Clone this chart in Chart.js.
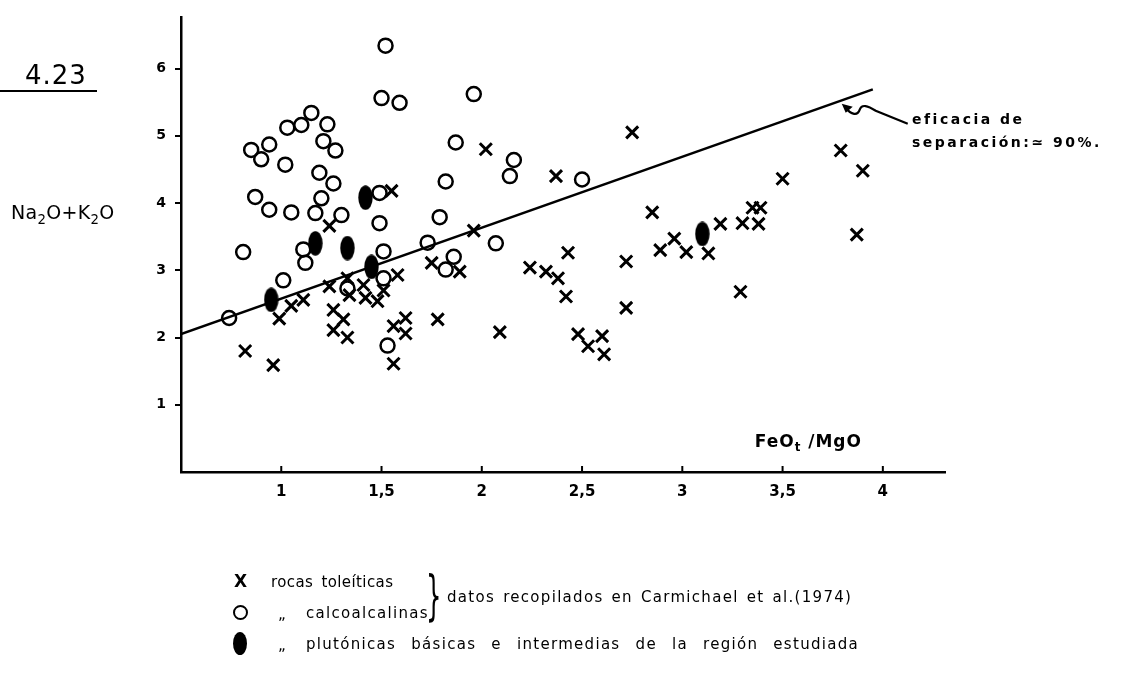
<!DOCTYPE html>
<html>
<head>
<meta charset="utf-8">
<script src="https://cdn.jsdelivr.net/npm/chart.js@4.4.1/dist/chart.umd.min.js"></script>
<style>
  body { margin: 0; background: #fff; }
  #wrap { position: relative; width: 1122px; height: 682px; font-family: 'DejaVu Sans', sans-serif; color: #000; }
  #wrap canvas { position: absolute; left: 0; top: 0; }
  .lbl { position: absolute; white-space: nowrap; }
  .lbl sub { font-size: 70%; vertical-align: -0.35em; line-height: 0; }
  .leg { position: absolute; white-space: nowrap; font-size: 15px; letter-spacing: 1.3px; line-height: 20px; }
</style>
</head>
<body>
<div id="wrap">
  <canvas id="chart" width="1122" height="682"></canvas>

  <div class="lbl" style="left:25px; top:60px; font-size:26px; letter-spacing:1px;">4.23</div>
  <div style="position:absolute; left:0; top:90px; width:97px; height:2px; background:#000;"></div>

  <div class="lbl" style="left:11px; top:201px; font-size:19px; letter-spacing:0.3px;">Na<sub>2</sub>O+K<sub>2</sub>O</div>
  <div class="lbl" style="right:260px; top:431px; font-size:17px; font-weight:bold; letter-spacing:1px;">FeO<sub>t</sub> /MgO</div>

  <div class="lbl" style="left:912px; top:108px; font-size:14px; font-weight:bold; letter-spacing:2.5px; line-height:23px;">eficacia de<br>separación:≃ 90%.</div>

  <!-- legend -->
  <div class="leg" style="left:234px; top:571px; font-weight:bold; font-size:17px;">X</div>
  <div class="leg" style="left:271px; top:572px; letter-spacing:0.4px; word-spacing:3px;">rocas toleíticas</div>
  <div style="position:absolute; left:233px; top:605px; width:11px; height:11px; border:2px solid #000; border-radius:50%;"></div>
  <div class="leg" style="left:278px; top:604px;">„</div>
  <div class="leg" style="left:306px; top:603px;">calcoalcalinas</div>
  <div class="leg" style="left:426px; top:566px; font-size:54px; line-height:60px; letter-spacing:0; transform:scaleX(0.45); transform-origin:left top;">}</div>
  <div class="leg" style="left:447px; top:587px; word-spacing:2px;">datos recopilados en Carmichael et al.(1974)</div>
  <div style="position:absolute; left:233px; top:632px; width:14px; height:23px; border-radius:50%; background:#000;"></div>
  <div class="leg" style="left:278px; top:635px;">„</div>
  <div class="leg" style="left:306px; top:634px; word-spacing:9px;">plutónicas básicas e intermedias de la región estudiada</div>
</div>

<script>
// tick values
const xTicks = [1, 1.5, 2, 2.5, 3, 3.5, 4];
const yTicks = [1, 2, 3, 4, 5, 6];

// rocas toleíticas (X)
const toleX = [0.82, 0.96, 0.99, 1.05, 1.11, 1.24, 1.24, 1.26, 1.31, 1.26, 1.33, 1.33, 1.34, 1.41, 1.42,
  1.51, 1.48, 1.58, 1.55, 1.56, 1.62, 1.62, 1.56, 1.75, 1.78, 1.89, 1.96, 2.02, 2.09, 2.24,
  2.32, 2.38, 2.37, 2.43, 2.42, 2.48, 2.53, 2.60, 2.61, 2.72, 2.72, 2.75, 2.85, 2.89, 2.96,
  3.02, 3.13, 3.19, 3.29, 3.30, 3.35, 3.38, 3.39, 3.50, 3.79, 3.87, 3.90];
const toleY = [1.80, 1.59, 2.28, 2.47, 2.56, 2.76, 3.66, 2.41, 2.27, 2.11, 2.00, 2.88, 2.63, 2.78, 2.59,
  2.70, 2.54, 2.93, 4.18, 2.17, 2.29, 2.06, 1.61, 3.11, 2.27, 2.98, 3.59, 4.80, 2.08, 3.04,
  2.98, 2.88, 4.40, 3.26, 2.61, 2.05, 1.87, 2.02, 1.75, 3.13, 2.44, 5.05, 3.86, 3.30, 3.47,
  3.27, 3.25, 3.69, 2.68, 3.70, 3.93, 3.69, 3.93, 4.36, 4.78, 3.53, 4.48];

// calcoalcalinas (O)
const calcX = [0.74, 0.81, 0.85, 0.87, 0.90, 0.94, 0.94, 1.01, 1.02, 1.03, 1.05, 1.10, 1.11, 1.12,
  1.15, 1.17, 1.19, 1.20, 1.21, 1.23, 1.26, 1.27, 1.30, 1.33, 1.49, 1.49, 1.50, 1.51, 1.51,
  1.52, 1.53, 1.59, 1.73, 1.79, 1.82, 1.82, 1.86, 1.87, 1.96, 2.07, 2.14, 2.16, 2.50];
const calcY = [2.29, 3.27, 4.79, 4.09, 4.65, 4.87, 3.90, 2.85, 4.57, 5.12, 3.86, 5.16, 3.31, 3.11,
  5.34, 3.85, 4.45, 4.07, 4.92, 5.17, 4.29, 4.78, 3.82, 2.73, 4.15, 3.70, 5.56, 2.88, 3.28,
  6.34, 1.88, 5.49, 3.41, 3.79, 4.32, 3.01, 3.20, 4.90, 5.62, 3.40, 4.40, 4.64, 4.35];

// plutónicas básicas e intermedias (filled)
const plutX = [0.95, 1.17, 1.33, 1.42, 1.45, 3.10];
const plutY = [2.56, 3.40, 3.33, 4.08, 3.05, 3.54];

// separation line
const sepX = [0.5, 3.95];
const sepY = [2.05, 5.69];

const pts = (xs, ys) => xs.map((x, i) => ({ x: x, y: ys[i] }));

// filled ellipse marker
const ell = document.createElement('canvas');
ell.width = 15; ell.height = 25;
const ectx = ell.getContext('2d');
ectx.fillStyle = '#000';
ectx.beginPath();
ectx.ellipse(7.5, 12.5, 7.2, 12.2, 0, 0, Math.PI * 2);
ectx.fill();

// inward x ticks + arrow to the line
const extras = {
  id: 'extras',
  afterDraw(chart) {
    const ctx = chart.ctx;
    const xs = chart.scales.x, ys = chart.scales.y;
    const b = chart.chartArea.bottom;
    ctx.save();
    ctx.strokeStyle = '#000';
    ctx.lineWidth = 2;
    ctx.beginPath();
    xTicks.forEach(v => {
      const px = xs.getPixelForValue(v);
      ctx.moveTo(px, b);
      ctx.lineTo(px, b - 6);
    });
    ctx.stroke();

    // arrow pointing at the line near its end
    const ax = 3.79;
    const ay = sepY[0] + (ax - sepX[0]) * (sepY[1] - sepY[0]) / (sepX[1] - sepX[0]);
    const tx = xs.getPixelForValue(ax) + 1, ty = ys.getPixelForValue(ay) + 3;
    ctx.lineWidth = 2.2;
    ctx.beginPath();
    ctx.moveTo(tx + 3, ty + 3);
    ctx.bezierCurveTo(tx + 10, ty + 12, tx + 16, ty + 12, tx + 18, ty + 6);
    ctx.bezierCurveTo(tx + 20, ty, tx + 26, ty + 2, tx + 34, ty + 7);
    ctx.lineTo(tx + 66, ty + 20);
    ctx.stroke();
    ctx.fillStyle = '#000';
    ctx.beginPath();
    ctx.moveTo(tx, ty);
    ctx.lineTo(tx + 11, ty + 3);
    ctx.lineTo(tx + 4, ty + 9);
    ctx.closePath();
    ctx.fill();
    ctx.restore();
  }
};

new Chart(document.getElementById('chart'), {
  type: 'scatter',
  data: {
    datasets: [
      {
        label: 'rocas toleíticas',
        data: pts(toleX, toleY),
        pointStyle: 'crossRot',
        pointRadius: 8.5,
        borderColor: '#000',
        borderWidth: 3
      },
      {
        label: 'calcoalcalinas',
        data: pts(calcX, calcY),
        pointStyle: 'circle',
        pointRadius: 7,
        backgroundColor: 'rgba(0,0,0,0)',
        borderColor: '#000',
        borderWidth: 2.5
      },
      {
        label: 'plutónicas básicas e intermedias',
        data: pts(plutX, plutY),
        pointStyle: ell,
        pointRadius: 10
      },
      {
        type: 'line',
        label: 'eficacia de separación',
        data: pts(sepX, sepY),
        borderColor: '#000',
        borderWidth: 2.5,
        pointRadius: 0,
        fill: false
      }
    ]
  },
  options: {
    responsive: false,
    animation: false,
    layout: { padding: { left: 0, right: 177, top: 12, bottom: 0 } },
    plugins: {
      legend: { display: false },
      tooltip: { enabled: false }
    },
    scales: {
      x: {
        type: 'linear',
        min: 0.5,
        max: 4.31,
        afterBuildTicks: s => { s.ticks = xTicks.map(v => ({ value: v })); },
        afterFit: s => { s.height = 210; },
        border: { display: true, color: '#000', width: 2.5 },
        grid: { drawOnChartArea: false, drawTicks: false },
        ticks: {
          padding: 11,
          color: '#000',
          font: { family: 'DejaVu Sans', size: 15, weight: 'bold' },
          callback: v => String(v).replace('.', ',')
        }
      },
      y: {
        type: 'linear',
        min: 0,
        max: 6.76,
        afterBuildTicks: s => { s.ticks = yTicks.map(v => ({ value: v })); },
        afterFit: s => { s.width = 181; },
        border: { display: true, color: '#000', width: 2.5 },
        grid: { drawOnChartArea: false, drawTicks: true, tickLength: 6, color: '#000', lineWidth: 2 },
        ticks: {
          padding: 9,
          color: '#000',
          font: { family: 'DejaVu Sans', size: 14, weight: 'bold' }
        }
      }
    }
  },
  plugins: [extras]
});
</script>
</body>
</html>
